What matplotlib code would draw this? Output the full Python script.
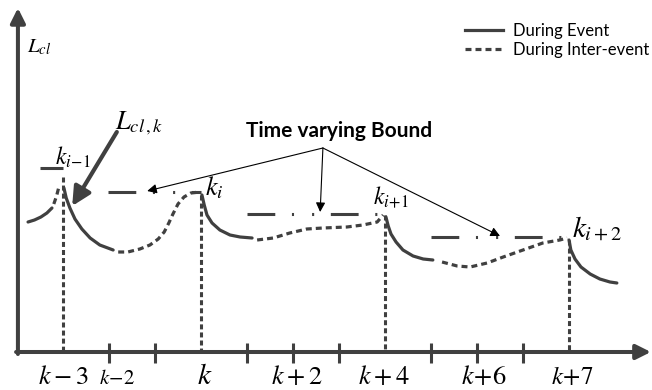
import matplotlib.pyplot as plt
from matplotlib.lines import Line2D

plt.rcParams['mathtext.fontset'] = 'stix'
plt.rcParams['lines.scale_dashes'] = False

GREY = '#404040'

# event instants (in sampling steps, k-3 = 0) and top of their markers
event_t = [0, 3, 7, 11]
event_top = [17.5, 15.7, 13.7, 11.2]

# time varying bound pieces
bound_start = [-0.5, 0.98, 4.0, 8.0]
bound_end = [0.0, 3.0, 7.0, 11.0]
bound_level = [18.4, 16.0, 13.8, 11.5]

# L_cl during event (solid pieces)
event_x = [
    [-0.76, -0.62, -0.48, -0.35, -0.24],
    [0.02, 0.07, 0.15, 0.26, 0.41, 0.59, 0.80, 1.09],
    [3.02, 3.07, 3.13, 3.24, 3.41, 3.63, 3.85, 4.11],
    [7.02, 7.07, 7.13, 7.24, 7.39, 7.61, 7.83, 8.04],
    [11.0, 11.04, 11.13, 11.26, 11.46, 11.67, 11.89, 12.04],
]
event_y = [
    [13.0, 13.2, 13.5, 13.9, 14.4],
    [16.4, 15.4, 14.4, 13.3, 12.3, 11.4, 10.7, 10.2],
    [15.7, 14.7, 13.7, 12.9, 12.2, 11.7, 11.5, 11.4],
    [13.5, 12.6, 11.8, 11.0, 10.2, 9.6, 9.3, 9.2],
    [11.2, 10.2, 9.3, 8.5, 7.8, 7.3, 7.0, 6.9],
]

# L_cl during inter-event (dotted pieces)
inter_x = [
    [-0.20, -0.14, -0.09],
    [1.20, 1.41, 1.67, 1.89, 2.07, 2.20, 2.30, 2.39, 2.50, 2.63, 2.78, 2.98],
    [4.22, 4.57, 4.93, 5.30, 5.65, 6.17, 6.52, 6.83, 6.96],
    [8.24, 8.57, 8.85, 9.22, 9.57, 10.0, 10.43, 10.80, 10.96],
]
inter_y = [
    [14.8, 15.6, 16.5],
    [10.0, 10.0, 10.3, 10.7, 11.3, 12.0, 12.9, 13.8, 14.8, 15.5, 15.9, 16.0],
    [11.2, 11.4, 11.9, 12.3, 12.4, 12.5, 12.7, 13.0, 13.7],
    [9.0, 8.6, 8.5, 8.9, 9.5, 10.2, 10.9, 11.2, 11.4],
]

tick_t = [1, 2, 4, 5, 6, 8, 9, 10]
label_t = [0, 1.17, 3.07, 5.09, 6.98, 9.15, 11.07]
label_txt = [r'$k-3$', r'$k\!-\!2$', r'$k$', r'$k+2$', r'$k+4$', r'$k\!+\!6$', r'$k\!+\!7$']
label_size = [19, 15, 21, 19, 19, 19, 18]

event_names = [r'$k_{i\!-\!1}$', r'$k_i$', r'$k_{i\!+\!1}$', r'$k_{i+2}$']
name_x = [0.22, 3.28, 7.13, 11.6]
name_y = [19.5, 16.4, 15.5, 12.4]
name_size = [17, 19, 17, 21]

# arrows from "Time varying Bound" to each bound
bound_arrow_x = [1.83, 5.59, 9.5]
bound_arrow_y = [16.1, 14.0, 11.6]

fig = plt.figure(figsize=(6.52, 3.9), dpi=100)
ax = fig.add_axes([0, 0, 1, 1])
ax.set_xlim(-1.3696, 12.804)
ax.set_ylim(-3.8, 35.2)
ax.axis('off')

# axes with arrows
ax.annotate('', xy=(12.78, 0), xytext=(-1.02, 0),
            arrowprops=dict(arrowstyle='-|>', lw=2.9, color=GREY,
                            mutation_scale=22, shrinkA=0, shrinkB=0))
ax.annotate('', xy=(-0.98, 34.4), xytext=(-0.98, -0.2),
            arrowprops=dict(arrowstyle='-|>', lw=2.9, color=GREY,
                            mutation_scale=22, shrinkA=0, shrinkB=0))

for t in tick_t:
    ax.plot([t, t], [0.9, -1.1], color=GREY, lw=2.2, solid_capstyle='butt')

for t, top in zip(event_t, event_top):
    ax.plot([t, t], [top, 0], color=GREY, lw=2.2, dashes=(3.6, 2.2))

for x0, x1, lv in zip(bound_start, bound_end, bound_level):
    ax.plot([x0, x1], [lv, lv], color=GREY, lw=2.2,
            dashes=(20, 12, 1.5, 13, 1.5, 12), dash_capstyle='butt')

for xs, ys in zip(event_x, event_y):
    ax.plot(xs, ys, color=GREY, lw=2.3, solid_joinstyle='round',
            solid_capstyle='round')
for xs, ys in zip(inter_x, inter_y):
    ax.plot(xs, ys, color=GREY, lw=2.3, dashes=(4.3, 2.9))

for t, s, fs in zip(label_t, label_txt, label_size):
    ax.text(t, -3.2, s, fontsize=fs, ha='center', va='baseline')

for x, y, s, fs in zip(name_x, name_y, event_names, name_size):
    ax.text(x, y, s, fontsize=fs, ha='center', va='center')

ax.text(-0.52, 30.5, r'$L_{cl}$', fontsize=15, ha='center', va='center')
ax.text(1.65, 22.9, r'$L_{cl\,,k}$', fontsize=19, ha='center', va='center')
ax.annotate('', xy=(0.2, 14.6), xytext=(1.17, 22.0),
            arrowprops=dict(arrowstyle='-|>', lw=3, color=GREY,
                            mutation_scale=28, shrinkA=0, shrinkB=0))

ax.text(6.0, 22.1, 'Time varying Bound', fontsize=15, fontweight='bold',
        family='Lato', ha='center', va='center')
for x, y in zip(bound_arrow_x, bound_arrow_y):
    ax.annotate('', xy=(x, y), xytext=(5.65, 20.4),
                arrowprops=dict(arrowstyle='-|>', lw=0.8, color='black',
                                mutation_scale=14, shrinkA=0, shrinkB=0))

handles = [Line2D([], [], color=GREY, lw=2.3),
           Line2D([], [], color=GREY, lw=2.3, dashes=(4.3, 2.9))]
ax.legend(handles, ['During Event', 'During Inter-event'], loc='upper left',
          bbox_to_anchor=(465 / 652, 0.942), frameon=False, borderpad=0,
          borderaxespad=0, handlelength=2.3, handletextpad=0.6,
          labelspacing=0.2, prop={'family': 'Lato', 'size': 12})

fig.savefig('out.png', dpi=100)
